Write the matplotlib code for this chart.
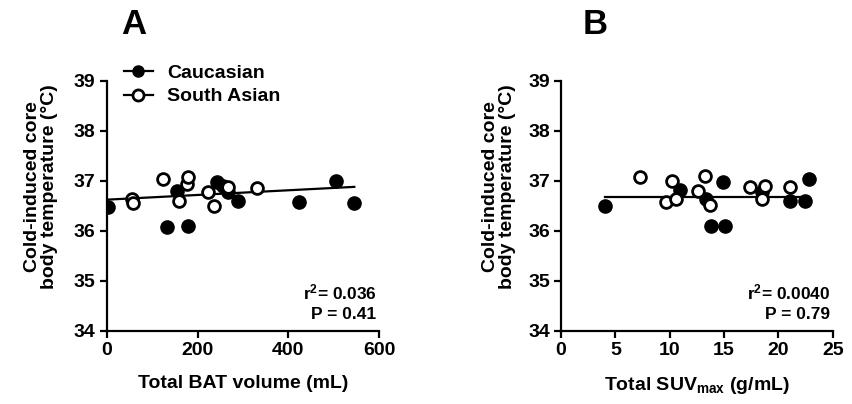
import matplotlib
matplotlib.use("Agg")
import matplotlib.pyplot as plt
import numpy as np

plt.rcParams['font.family'] = ['Liberation Sans', 'DejaVu Sans']
plt.rcParams['font.weight'] = 'bold'
plt.rcParams['mathtext.default'] = 'regular'

# panel A: total BAT volume (mL) vs core temperature (C)
bat_cauc = [3, 132, 180, 155, 242, 255, 268, 290, 424, 505, 545]
temp_bat_cauc = [36.48, 36.07, 36.09, 36.8, 36.97, 36.9, 36.78, 36.6, 36.57, 37.0, 36.55]
bat_sa = [55, 59, 125, 160, 176, 180, 224, 236, 268, 330]
temp_bat_sa = [36.63, 36.55, 37.03, 36.6, 36.93, 37.07, 36.78, 36.49, 36.87, 36.85]

# panel B: total SUVmax (g/mL) vs core temperature (C)
suv_cauc = [4.0, 10.9, 13.3, 13.8, 14.9, 15.1, 18.5, 21.1, 22.4, 22.8]
temp_suv_cauc = [36.5, 36.81, 36.63, 36.09, 36.98, 36.09, 36.77, 36.59, 36.59, 37.03]
suv_sa = [7.3, 9.7, 10.2, 10.6, 12.6, 13.2, 13.7, 17.4, 18.5, 18.8, 21.1]
temp_suv_sa = [37.07, 36.57, 36.99, 36.63, 36.79, 37.1, 36.52, 36.88, 36.63, 36.9, 36.88]

# regression lines (intercept, slope)
fit_a = (36.62, 0.00047)
fit_b = (36.68, 0.0)
stats_a = ["r$^2$= 0.036", "P = 0.41"]
stats_b = ["r$^2$= 0.0040", "P = 0.79"]

fig = plt.figure(figsize=(8.52, 4.04), dpi=100)
ax_a = fig.add_axes([0.1252, 0.1814, 0.320, 0.619])
ax_b = fig.add_axes([0.6585, 0.1814, 0.319, 0.619])


def draw_panel(ax, xc, yc, xs, ys, fit, stats, xlim, xticks, xlabel, letter, lx):
    x_all = np.array(xc + xs)
    xl = np.array([x_all.min(), x_all.max()])
    ax.plot(xl, fit[0] + fit[1] * xl, color='black', lw=1.6, zorder=2)
    ax.plot(xc, yc, 'o', color='black', ms=9.5, zorder=3, label='Caucasian')
    ax.plot(xs, ys, 'o', mfc='white', mec='black', mew=2.0, ms=8.5, zorder=4,
            label='South Asian')
    ax.set_xlim(xlim)
    ax.set_ylim(34, 39)
    ax.set_xticks(xticks)
    ax.set_yticks([34, 35, 36, 37, 38, 39])
    for s in ['top', 'right']:
        ax.spines[s].set_visible(False)
    for s in ['left', 'bottom']:
        ax.spines[s].set_linewidth(1.6)
    ax.tick_params(direction='out', length=5, width=1.6, labelsize=14, pad=3)
    for t in ax.get_xticklabels() + ax.get_yticklabels():
        t.set_fontweight('bold')
    ax.set_xlabel(xlabel, fontsize=14, fontweight='bold', labelpad=12)
    ax.set_ylabel('Cold-induced core\nbody temperature (°C)', fontsize=14,
                  fontweight='bold', linespacing=1.0)
    ax.yaxis.set_label_coords(lx, 0.575)
    ax.text(0.99, 0.155, stats[0], transform=ax.transAxes, ha='right',
            va='center', fontsize=12.5, fontweight='bold')
    ax.text(0.99, 0.063, stats[1], transform=ax.transAxes, ha='right',
            va='center', fontsize=12.5, fontweight='bold')
    ax.text(0.10 if letter == 'A' else 0.125, 1.223, letter,
            transform=ax.transAxes, ha='center', va='center', fontsize=25,
            fontweight='bold')


draw_panel(ax_a, bat_cauc, temp_bat_cauc, bat_sa, temp_bat_sa, fit_a, stats_a,
           (0, 600), [0, 200, 400, 600], 'Total BAT volume (mL)', 'A', -0.18)
draw_panel(ax_b, suv_cauc, temp_suv_cauc, suv_sa, temp_suv_sa, fit_b, stats_b,
           (0, 25), [0, 5, 10, 15, 20, 25], 'Total SUV$_{max}$ (g/mL)', 'B', -0.165)

leg = ax_a.legend(loc='upper left', bbox_to_anchor=(0.065, 1.065), frameon=False,
                  fontsize=14, handlelength=1.45, handletextpad=0.75,
                  labelspacing=0.3, borderaxespad=0, borderpad=0)
for h in leg.legend_handles:
    h.set_linestyle('-')
    h.set_linewidth(1.6)
    h.set_color('black')
    h.set_markersize(8)

fig.savefig('out.png', dpi=100)
